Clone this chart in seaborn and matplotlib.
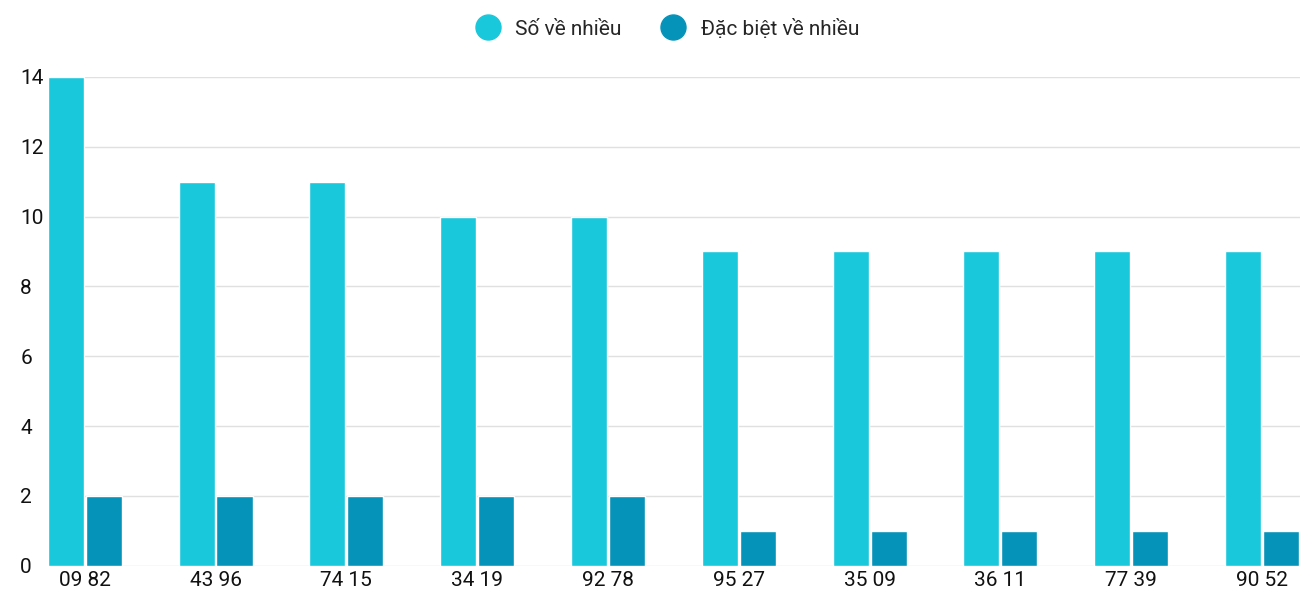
import matplotlib
matplotlib.use("Agg")
import matplotlib.pyplot as plt
from matplotlib.lines import Line2D
import seaborn as sns
import pandas as pd

groups = ["09 82", "43 96", "74 15", "34 19", "92 78",
          "95 27", "35 09", "36 11", "77 39", "90 52"]
so_ve_nhieu = [14, 11, 11, 10, 10, 9, 9, 9, 9, 9]
dac_biet = [2, 2, 2, 2, 2, 1, 1, 1, 1, 1]
series = ["Số về nhiều", "Đặc biệt về nhiều"]
colors = ["#1ac8db", "#0693b9"]

df = pd.DataFrame({
    "group": groups * 2,
    "value": so_ve_nhieu + dac_biet,
    "series": [series[0]] * len(groups) + [series[1]] * len(groups),
})

sns.set_style("white")
plt.rcParams["font.family"] = ["Roboto", "DejaVu Sans"]

fig = plt.figure(figsize=(13, 6), dpi=100)
ax = fig.add_axes([0.037, 0.057, 0.963, 0.815])

sns.barplot(data=df, x="group", y="value", hue="series", palette=colors,
            width=0.58, gap=0.05, ax=ax, legend=False, saturation=1)

ax.set_xlim(-0.28, 9.29)
ax.set_ylim(0, 14)
ax.set_yticks(range(0, 15, 2))
ax.yaxis.grid(True, color="#e0e0e0", linewidth=1)
ax.set_axisbelow(True)
for s in ax.spines.values():
    s.set_visible(False)
ax.set_xlabel("")
ax.set_ylabel("")
ax.tick_params(axis="both", length=0, labelsize=15, colors="#111111")
ax.tick_params(axis="y", pad=20)
for lab in ax.get_yticklabels():
    lab.set_horizontalalignment("left")

handles = [Line2D([0], [0], marker="o", linestyle="", markersize=18,
                  markerfacecolor=c, markeredgecolor=c) for c in colors]
fig.legend(handles, series, loc="upper center", bbox_to_anchor=(0.51, 1.0),
           ncol=2, frameon=False, fontsize=15, handletextpad=0.3,
           columnspacing=1.5)

fig.savefig("out.png", dpi=100)
